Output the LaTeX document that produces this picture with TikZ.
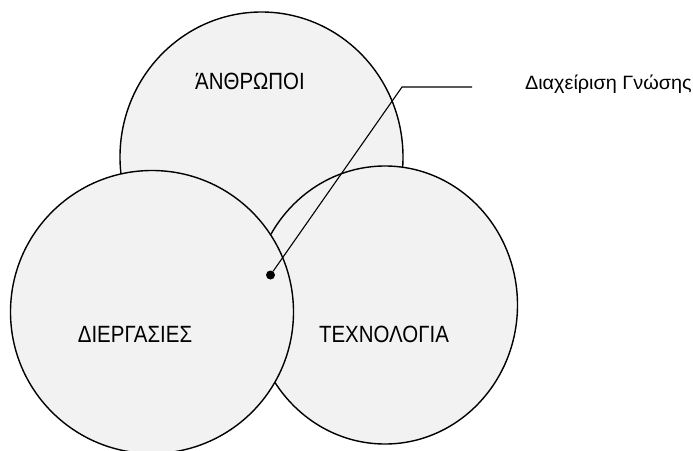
\documentclass[tikz,border=0pt]{standalone}
\usepackage{fontspec}
\setmainfont{Liberation Sans}
\newfontfamily\narrowfont[FakeStretch=0.87]{Liberation Sans}
\newfontfamily\widefont[FakeStretch=1.03]{Liberation Sans}
\usetikzlibrary{positioning,calc,shapes.geometric}
\definecolor{setgray}{HTML}{F2F2F2}

\begin{document}
\begin{tikzpicture}[x=1pt,y=-1pt,
		set/.style={draw,ellipse,fill=setgray,line width=1.4pt,inner sep=0pt},
		setlabel/.style={anchor=base,inner sep=0pt,font=\narrowfont\fontsize{23.5}{26}\selectfont},
		leader/.style={line width=1.1pt}]
		\useasboundingbox (0,0) rectangle (693,450);
		
		\node[set,minimum width=283pt,minimum height=290pt] (anthr) at (261.5,157) {};
		\node[set,minimum width=265pt,minimum height=278pt] (tech) at (385,305) {};
		\node[set,minimum width=283pt,minimum height=283pt] (dierg) at (152,312) {};
		
		\node[setlabel] (anthrlbl) at (250,89) {ΆΝΘΡΩΠΟΙ};
		\node[setlabel] (dierglbl) at (135,342) {ΔΙΕΡΓΑΣΙΕΣ};
		\node[setlabel] (techlbl) at (384,342) {ΤΕΧΝΟΛΟΓΙΑ};
		
		\node[circle,fill,inner sep=0pt,minimum size=9pt] (km) at (270.5,275) {};
		\coordinate (bend) at (402,87);
		\coordinate (lineend) at (472,87);
		\node[anchor=base east,inner sep=0pt,font=\widefont\fontsize{19.3}{22}\selectfont] (kmlbl) at (692,89) {Διαχείριση Γνώσης};
		
		\draw[leader] (km) -- (bend) -- (lineend);
	\end{tikzpicture}
\end{document}
